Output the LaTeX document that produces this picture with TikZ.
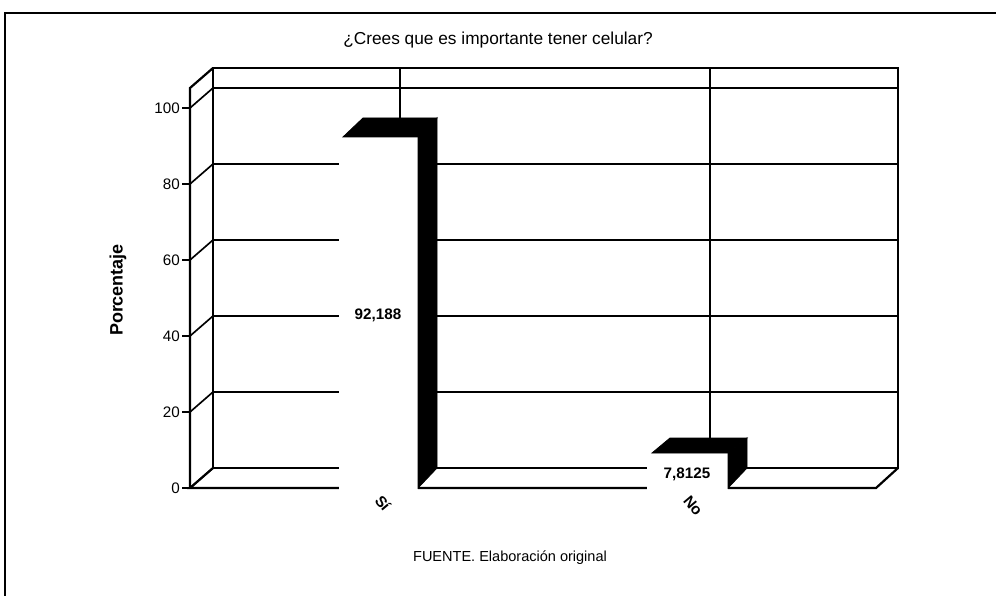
\documentclass[tikz,border=0pt]{standalone}
\usepackage{fontspec}
\setmainfont{Liberation Sans}

\begin{document}
\begin{tikzpicture}[x=0.0254cm, y=-0.0254cm, line width=1.2pt,
    ticklabel/.style={anchor=east, inner sep=1pt, font=\fontsize{11}{12}\selectfont},
    barlabel/.style={inner sep=1pt, font=\bfseries\fontsize{11}{12}\selectfont},
    catlabel/.style={rotate=-50, inner sep=0pt, font=\bfseries\fontsize{11}{12}\selectfont},
    barside/.style={draw=black, fill=black, line width=0.6pt},
    wall/.style={line width=1.6pt}]
    \useasboundingbox (0, 0) rectangle (996, 595);
    \draw[line width=1.5pt] (5, 600) -- (5, 13) -- (1000, 13);

    \node (title) at (498, 40) {\fontsize{12.5}{14}\selectfont ¿Crees que es importante tener celular?};
    \node (source) at (510, 558) {\fontsize{10.5}{12}\selectfont FUENTE. Elaboración original};
    \node[rotate=90, font=\bfseries\fontsize{13}{15}\selectfont] (ylabel) at (118, 290) {Porcentaje};

    % walls and floor
    \draw[wall] (213, 68) rectangle (898, 468);
    \draw[wall] (213, 468) -- (190, 488) -- (876, 488) -- (898, 468);
    \draw[wall] (190, 488) -- (190, 88) -- (213, 68);
    \foreach \v in {0, 20, ..., 100} {
        \draw (182, 488 - 3.8*\v) -- (190, 488 - 3.8*\v) -- (213, 468 - 3.8*\v);
        \draw (213, 468 - 3.8*\v) -- (898, 468 - 3.8*\v);
        \node[ticklabel] (tick\v) at (182, 488 - 3.8*\v) {\v};
    }
    \draw (400, 68) -- (400, 468);
    \draw (710, 68) -- (710, 468);

    % bar Si
    \fill[white] (339, 137) rectangle (418, 492);
    \draw[barside] (418, 137) -- (437, 118) -- (437, 468) -- (418, 488) -- cycle;
    \draw[barside] (343, 137) -- (418, 137) -- (437, 118) -- (363, 118) -- cycle;
    \node[barlabel] (valsi) at (378, 315) {92,188};
    \node[catlabel] (catsi) at (383, 503) {Sí};

    % bar No
    \fill[white] (647, 453) rectangle (728, 492);
    \draw[barside] (728, 453) -- (747, 438) -- (747, 468) -- (728, 488) -- cycle;
    \draw[barside] (652, 453) -- (728, 453) -- (747, 438) -- (670, 438) -- cycle;
    \node[barlabel] (valno) at (687, 474) {7,8125};
    \node[catlabel] (catno) at (693, 506) {No};
\end{tikzpicture}
\end{document}
